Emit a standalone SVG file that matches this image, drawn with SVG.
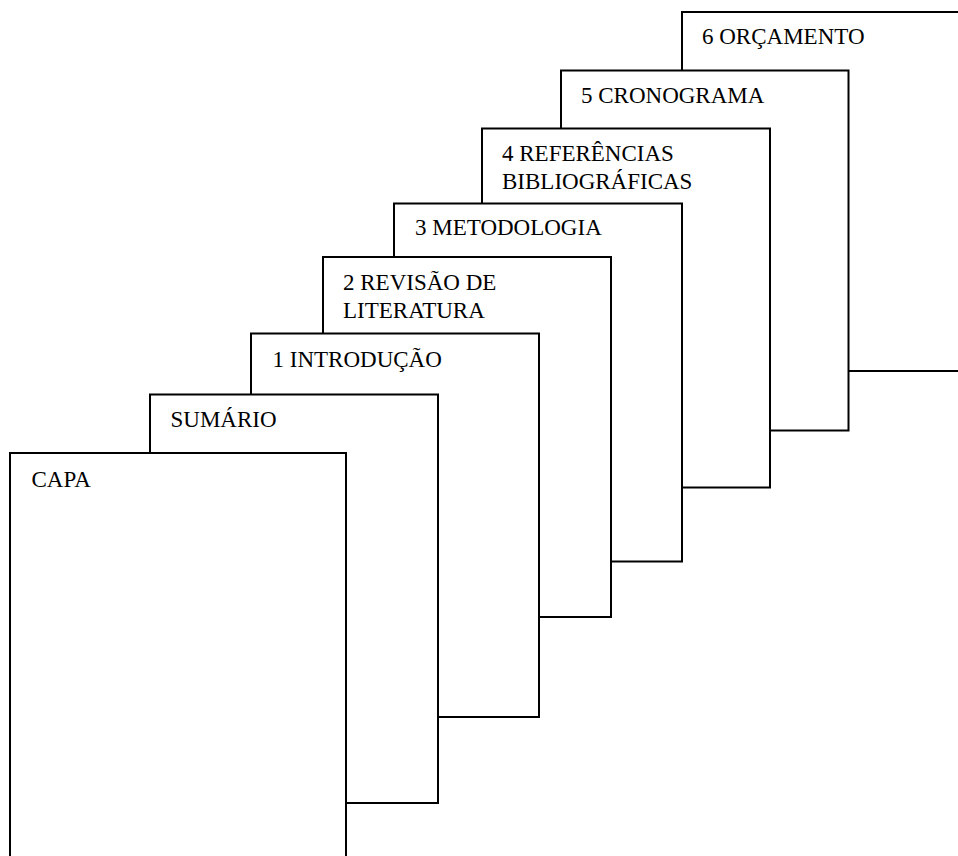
<svg xmlns="http://www.w3.org/2000/svg" width="958" height="856" viewBox="0 0 958 856">
<style>
.pg{fill:#fff;stroke:#000;stroke-width:2}
.t{font-family:"Liberation Serif","Times New Roman",serif;font-size:23px;fill:#000}
</style>
<rect width="958" height="856" fill="#fff"/>
<g id="orcamento"><rect class="pg" x="682" y="12" width="300" height="359"/><text class="t" x="702" y="44">6 ORÇAMENTO</text></g>
<g id="cronograma"><rect class="pg" x="561" y="70.5" width="287.5" height="360"/><text class="t" x="581" y="102.5">5 CRONOGRAMA</text></g>
<g id="referencias"><rect class="pg" x="482" y="128.5" width="288" height="359"/><text class="t" x="502" y="161">4 REFERÊNCIAS</text><text class="t" x="502" y="188.5">BIBLIOGRÁFICAS</text></g>
<g id="metodologia"><rect class="pg" x="394" y="203.5" width="288" height="358"/><text class="t" x="415" y="235">3 METODOLOGIA</text></g>
<g id="revisao"><rect class="pg" x="323" y="257" width="288" height="360"/><text class="t" x="343" y="290">2 REVISÃO DE</text><text class="t" x="343" y="317.5">LITERATURA</text></g>
<g id="introducao"><rect class="pg" x="251" y="333.5" width="288" height="383.5"/><text class="t" x="272.5" y="366.5">1 INTRODUÇÃO</text></g>
<g id="sumario"><rect class="pg" x="150" y="394.5" width="288" height="408.5"/><text class="t" x="170.5" y="426.5">SUMÁRIO</text></g>
<g id="capa"><rect class="pg" x="10" y="453" width="336" height="420"/><text class="t" x="31.5" y="487">CAPA</text></g>
<g id="connectors"></g>
</svg>
